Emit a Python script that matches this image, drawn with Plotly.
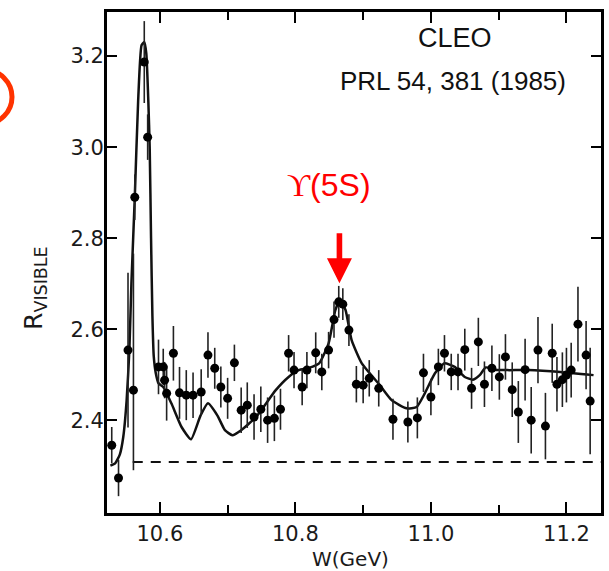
import plotly.graph_objects as go

# ---------------- data ----------------
W_data = [10.529, 10.539, 10.553, 10.561, 10.563, 10.577, 10.582, 10.598, 10.605, 10.607,
          10.610, 10.620, 10.629, 10.639, 10.649, 10.661, 10.671, 10.681, 10.690, 10.700,
          10.710, 10.720, 10.729, 10.739, 10.749, 10.759, 10.769, 10.778, 10.790, 10.798,
          10.810, 10.817, 10.830, 10.839, 10.849, 10.857, 10.864, 10.870, 10.879, 10.890,
          10.900, 10.909, 10.923, 10.944, 10.966, 10.980, 10.989, 11.000, 11.011, 11.020,
          11.030, 11.040, 11.050, 11.060, 11.070, 11.079, 11.090, 11.101, 11.110, 11.120,
          11.129, 11.139, 11.148, 11.158, 11.169, 11.179, 11.186, 11.194, 11.200, 11.207,
          11.217, 11.229, 11.235]
R_data = [2.345, 2.273, 2.554, 2.466, 2.890, 3.187, 3.022, 2.517, 2.517, 2.488,
          2.459, 2.547, 2.460, 2.455, 2.455, 2.462, 2.543, 2.514, 2.473, 2.448,
          2.526, 2.422, 2.433, 2.407, 2.424, 2.400, 2.404, 2.424, 2.547, 2.510,
          2.473, 2.510, 2.548, 2.506, 2.554, 2.621, 2.660, 2.655, 2.598, 2.479,
          2.477, 2.492, 2.470, 2.402, 2.396, 2.405, 2.504, 2.451, 2.517, 2.547,
          2.506, 2.506, 2.555, 2.470, 2.572, 2.479, 2.514, 2.495, 2.539, 2.467,
          2.418, 2.511, 2.400, 2.554, 2.387, 2.547, 2.479, 2.489, 2.499, 2.510,
          2.611, 2.543, 2.442]
R_err_plus = [0.04, 0.04, 0.17, 0.30, 0.05, 0.09, 0.05, 0.06, 0.04, 0.04,
              0.06, 0.06, 0.057, 0.055, 0.05, 0.05, 0.05, 0.045, 0.045, 0.045,
              0.04, 0.05, 0.05, 0.05, 0.05, 0.05, 0.05, 0.045, 0.04, 0.04,
              0.04, 0.04, 0.045, 0.04, 0.04, 0.04, 0.035, 0.035, 0.035, 0.04,
              0.04, 0.04, 0.04, 0.045, 0.045, 0.045, 0.042, 0.04, 0.04, 0.04,
              0.04, 0.04, 0.046, 0.045, 0.053, 0.05, 0.05, 0.05, 0.05, 0.06,
              0.068, 0.068, 0.073, 0.073, 0.073, 0.065, 0.06, 0.06, 0.06, 0.06,
              0.082, 0.075, 0.117]
R_err_minus = list(R_err_plus)
R_err_minus[3] = 0.176

fit_W = [10.527, 10.534, 10.541, 10.546, 10.551, 10.555, 10.558, 10.563, 10.568, 10.573,
         10.577, 10.580, 10.583, 10.585, 10.587, 10.589, 10.591, 10.594, 10.598, 10.605,
         10.617, 10.632, 10.646, 10.660, 10.671, 10.685, 10.696, 10.707, 10.720, 10.742,
         10.771, 10.790, 10.805, 10.820, 10.835, 10.849, 10.859, 10.866, 10.874, 10.883,
         10.898, 10.923, 10.942, 10.964, 10.979, 10.991, 11.006, 11.020, 11.035, 11.050,
         11.062, 11.072, 11.081, 11.094, 11.113, 11.143, 11.191, 11.240]
fit_R = [2.300, 2.305, 2.325, 2.363, 2.444, 2.554, 2.700, 2.890, 3.103, 3.224,
         3.231, 3.206, 3.100, 3.000, 2.800, 2.630, 2.540, 2.503, 2.481, 2.473,
         2.437, 2.385, 2.358, 2.410, 2.437, 2.410, 2.378, 2.367, 2.378, 2.407,
         2.466, 2.495, 2.510, 2.515, 2.525, 2.569, 2.642, 2.664, 2.642, 2.576,
         2.525, 2.480, 2.444, 2.426, 2.429, 2.459, 2.503, 2.525, 2.517, 2.495,
         2.489, 2.499, 2.516, 2.511, 2.510, 2.510, 2.506, 2.499]

baseline_R = 2.308
baseline_W = [10.560, 11.251]
upsilon5S_W = 10.865
upsilon5S_R_tip = 2.701

x_ticks = [10.6, 10.8, 11.0, 11.2]
x_tick_text = ["10.6", "10.8", "11.0", "11.2"]
x_minor = [10.7, 10.9, 11.1]
y_ticks = [2.4, 2.6, 2.8, 3.0, 3.2]
y_tick_text = ["2.4", "2.6", "2.8", "3.0", "3.2"]

# ---------------- figure ----------------
fig = go.Figure()

fig.add_trace(go.Scatter(
    x=baseline_W, y=[baseline_R] * len(baseline_W), mode="lines",
    line=dict(color="#111111", width=2, dash="10px,8px"), hoverinfo="skip"))

fig.add_trace(go.Scatter(
    x=fit_W, y=fit_R, mode="lines",
    line=dict(color="#111111", width=2.5, shape="spline", smoothing=0.5),
    hoverinfo="skip"))

fig.add_trace(go.Scatter(
    x=W_data, y=R_data, mode="markers",
    marker=dict(color="#000000", size=9),
    error_y=dict(type="data", symmetric=False, array=R_err_plus,
                 arrayminus=R_err_minus, width=0, thickness=1.6, color="#222222")))

axis_common = dict(showline=True, linecolor="#000000", linewidth=3, mirror="ticks",
                   ticks="inside", tickcolor="#000000", tickwidth=2,
                   showgrid=False, zeroline=False,
                   tickfont=dict(family="DejaVu Sans", size=21, color="#1a1a1a"))

fig.update_xaxes(range=[10.522, 11.251], tickvals=x_ticks, ticktext=x_tick_text,
                 ticklen=11, ticklabelstandoff=0,
                 minor=dict(tickvals=x_minor, ticks="inside", ticklen=8,
                            tickwidth=2, tickcolor="#000000"),
                 **axis_common)
fig.update_yaxes(range=[2.196, 3.297], tickvals=y_ticks, ticktext=y_tick_text,
                 ticklen=10, ticklabelstandoff=-4, **axis_common)

fig.update_layout(
    width=609, height=571,
    margin=dict(l=107, r=5, t=12, b=58),
    paper_bgcolor="white", plot_bgcolor="white",
    showlegend=False,
    font=dict(family="DejaVu Sans", color="#111111"),
)

# red arrow marking the Upsilon(5S)
fig.add_shape(type="path", xref="x", yref="y", xsizemode="pixel", ysizemode="pixel",
              xanchor=upsilon5S_W, yanchor=upsilon5S_R_tip,
              path="M0,0 L-12.5,25 L-2.8,25 L-2.8,50 L2.8,50 L2.8,25 L12.5,25 Z",
              fillcolor="#ff0000", line=dict(width=0))

# red circle, mostly beyond the left edge of the page
fig.add_shape(type="circle", xref="paper", yref="paper", xsizemode="pixel",
              ysizemode="pixel", xanchor=0, yanchor=1,
              x0=-149, x1=-95, y0=-112, y1=-58,
              line=dict(color="#ff3300", width=5))

fig.add_annotation(text="CLEO", xref="paper", yref="paper", x=0.704, y=0.948,
                   showarrow=False, xanchor="center", yanchor="middle",
                   font=dict(family="Liberation Sans", size=27, color="#111111"))
fig.add_annotation(text="PRL 54, 381 (1985)", xref="paper", yref="paper",
                   x=0.700, y=0.862, showarrow=False, xanchor="center",
                   yanchor="middle",
                   font=dict(family="Liberation Sans", size=26, color="#111111"))
fig.add_annotation(text="<span style='font-family:Liberation Serif'>ϒ</span>(5S)",
                   xref="paper", yref="paper", x=0.449, y=0.655,
                   showarrow=False, xanchor="center", yanchor="middle",
                   font=dict(family="Liberation Sans", size=32, color="#ff0000"))
fig.add_annotation(text="W(GeV)", xref="paper", yref="paper", x=0.493, y=-0.092,
                   showarrow=False, xanchor="center", yanchor="middle",
                   font=dict(family="DejaVu Sans", size=20, color="#1a1a1a"))
fig.add_annotation(text="R<sub>VISIBLE</sub>", xref="paper", yref="paper",
                   x=-0.147, y=0.45, textangle=-90, showarrow=False,
                   xanchor="center", yanchor="middle",
                   font=dict(family="DejaVu Sans", size=25, color="#1a1a1a"))

fig.write_html("out.html",
               config={"displayModeBar": False},
               post_script="document.body.style.margin='0';"
                           "document.body.style.overflow='hidden';")
